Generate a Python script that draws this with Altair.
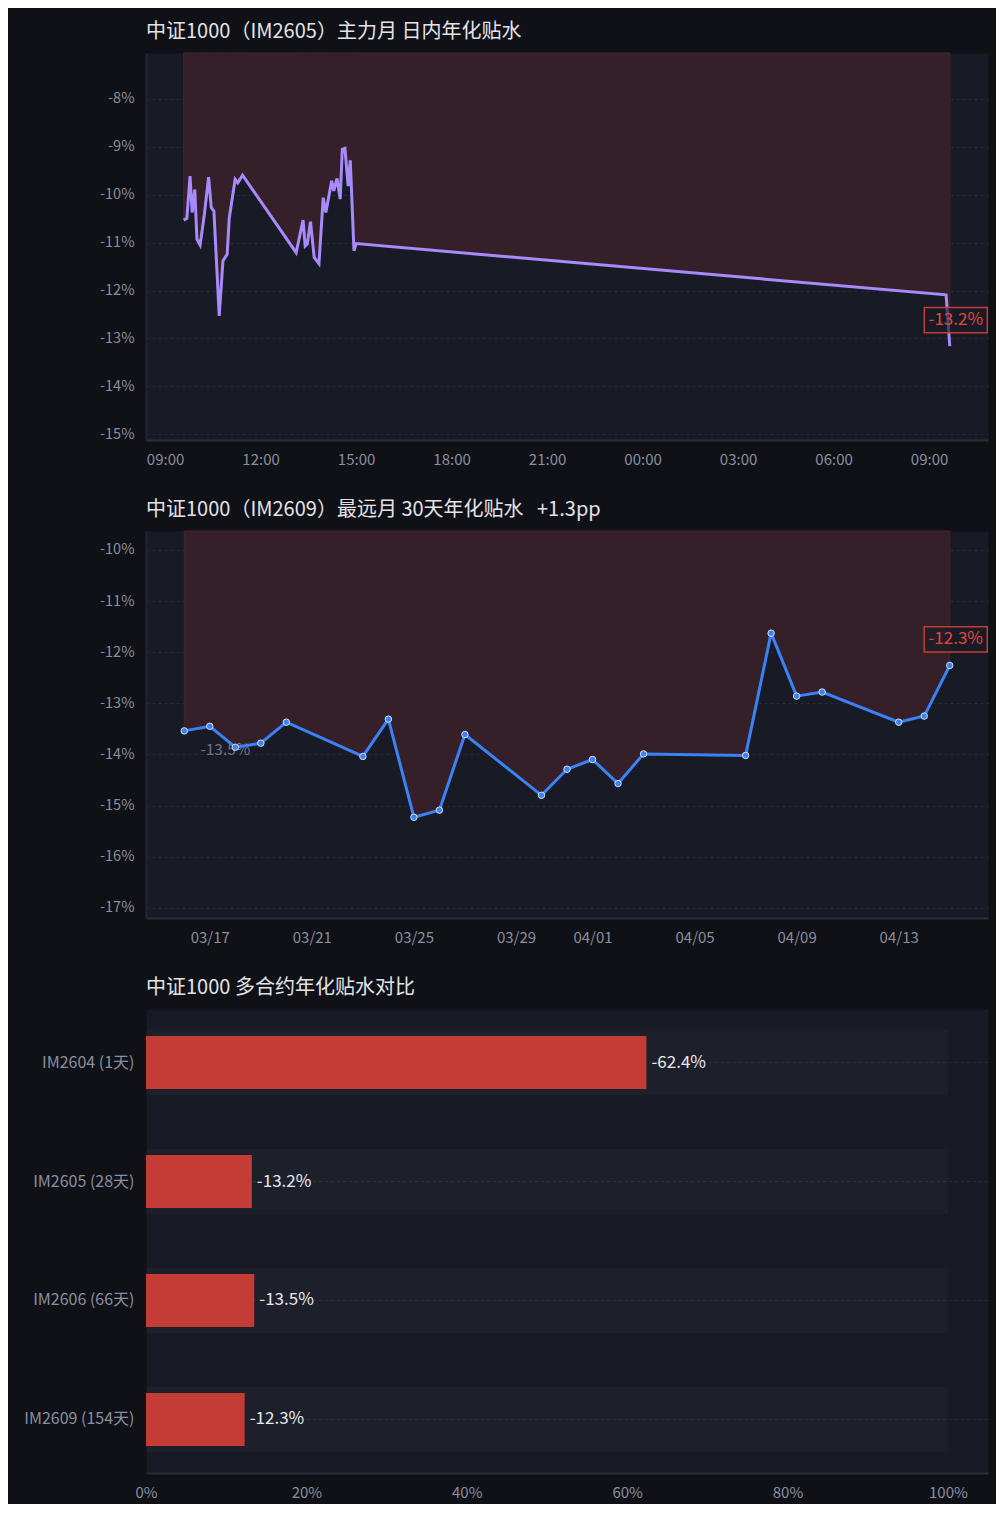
import altair as alt
import pandas as pd

FONT = "Noto Sans CJK SC"
PAGE_BG = "#0f1116"
PLOT_BG = "#181b26"
GRID = "#272a39"
AXIS_LINE = "#2a2d3b"
LABEL = "#8a8fa0"
TITLE = "#e4e4e8"
RED = "#c43c35"
RED_TEXT = "#e2473d"
SHADE = "#352029"
SHADE_EDGE = "#47242c"
PURPLE = "#a78bfa"
BLUE = "#3b82f6"

# ---------------- data ----------------
intraday_time = [
    "04-15 09:35", "04-15 09:41", "04-15 09:47", "04-15 09:51", "04-15 09:56",
    "04-15 10:00", "04-15 10:06", "04-15 10:14", "04-15 10:22", "04-15 10:27",
    "04-15 10:32", "04-15 10:42", "04-15 10:49", "04-15 10:57", "04-15 11:01",
    "04-15 11:12", "04-15 11:17", "04-15 11:26", "04-15 13:07", "04-15 13:20",
    "04-15 13:24", "04-15 13:28", "04-15 13:34", "04-15 13:41", "04-15 13:50",
    "04-15 13:58", "04-15 14:03", "04-15 14:14", "04-15 14:18", "04-15 14:24",
    "04-15 14:30", "04-15 14:34", "04-15 14:39", "04-15 14:45", "04-15 14:49",
    "04-15 14:56", "04-15 15:00", "04-16 09:32", "04-16 09:39",
]
intraday_value = [
    -10.53, -10.49, -9.61, -10.37, -9.89,
    -10.93, -11.05, -10.41, -9.63, -10.27,
    -10.34, -12.53, -11.38, -11.24, -10.48,
    -9.68, -9.75, -9.59, -11.21, -10.53,
    -11.07, -11.03, -10.56, -11.31, -11.44,
    -10.06, -10.37, -9.71, -9.92, -9.66,
    -10.09, -9.05, -9.03, -9.82, -9.28,
    -11.17, -11.02, -12.09, -13.16,
]

far_date = [
    "03-16", "03-17", "03-18", "03-19", "03-20", "03-23", "03-24", "03-25",
    "03-26", "03-27", "03-30", "03-31", "04-01", "04-02", "04-03", "04-07",
    "04-08", "04-09", "04-10", "04-13", "04-14", "04-15",
]
far_value = [
    -13.54, -13.45, -13.86, -13.78, -13.37, -14.04, -13.31, -15.23,
    -15.09, -13.61, -14.80, -14.29, -14.10, -14.57, -13.99, -14.02,
    -11.63, -12.86, -12.78, -13.37, -13.25, -12.26,
]

contracts = ["IM2604 (1天)", "IM2605 (28天)", "IM2606 (66天)", "IM2609 (154天)"]
contract_value = [-62.4, -13.2, -13.5, -12.3]

title1 = "中证1000（IM2605）主力月 日内年化贴水"
title3 = "中证1000 多合约年化贴水对比"

y1_ticks = [-8, -9, -10, -11, -12, -13, -14, -15]
y2_ticks = [-10, -11, -12, -13, -14, -15, -16, -17]
x3_ticks = [0, 20, 40, 60, 80, 100]
x1_ticks = [(15, 9), (15, 12), (15, 15), (15, 18), (15, 21), (16, 0), (16, 3), (16, 6), (16, 9)]
x2_ticks = [(3, 17), (3, 21), (3, 25), (3, 29), (4, 1), (4, 5), (4, 9), (4, 13)]

# ---------------- frames ----------------
def pct(v):
    return f"{v:.1f}%"

df1 = pd.DataFrame({
    "t": ["2026-" + s.replace(" ", "T") + ":00" for s in intraday_time],
    "v": intraday_value,
})
df1["lab"] = df1["v"].map(pct)
last1 = df1.iloc[[-1]]

df2 = pd.DataFrame({
    "t": ["2026-" + s + "T00:00:00" for s in far_date],
    "v": far_value,
})
df2["lab"] = df2["v"].map(pct)
first2 = df2.iloc[[0]]
last2 = df2.iloc[[-1]]
change = far_value[-1] - far_value[0]
title2 = f"中证1000（IM2609）最远月 30天年化贴水\u00a0\u00a0\u00a0{change:+.1f}pp"

df3 = pd.DataFrame({"c": contracts, "v": contract_value})
df3["a"] = df3["v"].abs()
df3["lab"] = df3["v"].map(pct)

W = 842
H1 = 387
H3 = 464
YEXT = 132
XEXT = 30
Y1_DOM = [-15.12, -7.04]
Y2_DOM = [-17.2, -9.63]

BOX = "M-1,-0.4L1,-0.4L1,0.4L-1,0.4Z"


def title(text, offset):
    return alt.TitleParams(text=text, anchor="start", frame="group", fontSize=20,
                           font=FONT, fontWeight="normal", color=TITLE, offset=offset)


def y_axis(vals):
    return alt.Axis(values=vals, labelExpr="datum.value + '%'", title=None,
                    grid=True, gridColor=GRID, gridDash=[3, 3], gridWidth=1,
                    ticks=False, domain=True, domainColor="#232634", domainWidth=2,
                    labelPadding=12, labelFontSize=14.5, labelColor=LABEL, labelFont=FONT,
                    minExtent=YEXT, maxExtent=YEXT)


def x_time_axis(vals, fmt):
    return alt.Axis(values=vals, format=fmt,
                    title=None, grid=False, ticks=False, domain=True,
                    domainColor=AXIS_LINE, domainWidth=2, labelFlush=False,
                    labelPadding=12, labelFontSize=15, labelColor=LABEL, labelFont=FONT,
                    minExtent=XEXT, maxExtent=XEXT)


def badge(df, x, y):
    box = alt.Chart(df).mark_point(
        shape=BOX, size=63 * 63, filled=True, fill=PLOT_BG, fillOpacity=0.65,
        stroke=RED, strokeWidth=1.5, opacity=1, xOffset=6, yOffset=-26,
    ).encode(x=x, y=y)
    txt = alt.Chart(df).mark_text(
        color=RED_TEXT, fontSize=17, font=FONT, dx=6, dy=-26,
        align="center", baseline="middle",
    ).encode(x=x, y=y, text="lab:N")
    return box + txt


# ---------------- panel 1 ----------------
x1 = alt.X("t:T", scale=alt.Scale(domain=[
    alt.DateTime(year=2026, month=4, date=15, hours=8, minutes=24),
    alt.DateTime(year=2026, month=4, date=16, hours=10, minutes=51),
]), axis=x_time_axis([alt.DateTime(year=2026, month=4, date=d, hours=h) for d, h in x1_ticks], "%H:%M"))
y1 = alt.Y("v:Q", scale=alt.Scale(domain=Y1_DOM, nice=False, zero=False),
           axis=y_axis(y1_ticks))

base1 = alt.Chart(df1)
area1 = base1.mark_area(fill=SHADE, stroke=SHADE_EDGE, strokeWidth=1).encode(
    x=x1, y=y1, y2=alt.datum(Y1_DOM[1]))
line1 = base1.mark_line(color=PURPLE, strokeWidth=3).encode(x=x1, y=y1)
p1 = alt.layer(area1, line1, badge(last1, x1, y1)).properties(
    width=W, height=H1, title=title(title1, 9))

# ---------------- panel 2 ----------------
x2 = alt.X("t:T", scale=alt.Scale(domain=[
    alt.DateTime(year=2026, month=3, date=14, hours=12),
    alt.DateTime(year=2026, month=4, date=16, hours=12),
]), axis=x_time_axis([alt.DateTime(year=2026, month=m, date=d) for m, d in x2_ticks], "%m/%d"))
y2 = alt.Y("v:Q", scale=alt.Scale(domain=Y2_DOM, nice=False, zero=False),
           axis=y_axis(y2_ticks))

base2 = alt.Chart(df2)
area2 = base2.mark_area(fill=SHADE, stroke=SHADE_EDGE, strokeWidth=1).encode(
    x=x2, y=y2, y2=alt.datum(Y2_DOM[1]))
first_lab = alt.Chart(first2).mark_text(
    color="#6f7484", fontSize=15.5, font=FONT, dx=41, dy=19,
    align="center", baseline="middle").encode(x=x2, y=y2, text="lab:N")
line2 = base2.mark_line(color=BLUE, strokeWidth=3).encode(x=x2, y=y2)
pts2 = base2.mark_point(filled=True, fill=BLUE, stroke="#d6def0", strokeWidth=1,
                        size=42, opacity=1).encode(x=x2, y=y2)
p2 = alt.layer(area2, first_lab, line2, pts2, badge(last2, x2, y2)).properties(
    width=W, height=H1, title=title(title2, 9))

# ---------------- panel 3 ----------------
y3 = alt.Y("c:N", sort=contracts,
           scale=alt.Scale(paddingInner=0.454, paddingOuter=0.177),
           axis=alt.Axis(title=None, ticks=False, domain=False, labelPadding=12,
                         grid=False,
                         labelFontSize=16, labelColor=LABEL, labelFont=FONT,
                         minExtent=YEXT, maxExtent=YEXT))
x3 = alt.X("a:Q", scale=alt.Scale(domain=[0, 105], nice=False),
           axis=alt.Axis(values=x3_ticks, labelExpr="datum.value + '%'", title=None,
                         grid=False, ticks=False, domain=True, domainColor=AXIS_LINE,
                         domainWidth=2, labelFlush=False, labelPadding=12,
                         labelFontSize=15, labelColor=LABEL, labelFont=FONT,
                         minExtent=XEXT, maxExtent=XEXT))

base3 = alt.Chart(df3)
grid3 = base3.mark_rule(color=GRID, strokeDash=[3, 3], strokeWidth=1).encode(y=y3)
bg3 = base3.mark_bar(fill="#ffffff", fillOpacity=0.022, height=65).encode(
    y=y3, x=alt.datum(100))
bars3 = base3.mark_bar(color=RED, height=53).encode(y=y3, x=x3)
labs3 = base3.mark_text(align="left", baseline="middle", dx=5, fontSize=17,
                        font=FONT, color="#e8e8ec").encode(y=y3, x=x3, text="lab:N")
p3 = alt.layer(grid3, bg3, bars3, labs3).properties(
    width=W, height=H3, title=title(title3, 11))

chart = alt.vconcat(p1, p2, p3, spacing=28).properties(
    background=PAGE_BG,
    padding={"left": 5, "top": 13, "right": 5, "bottom": 0},
).configure(
    font=FONT,
    view=alt.ViewConfig(fill=PLOT_BG, stroke="transparent"),
)

chart.save("out.html", embed_options={"renderer": "svg", "actions": False})
